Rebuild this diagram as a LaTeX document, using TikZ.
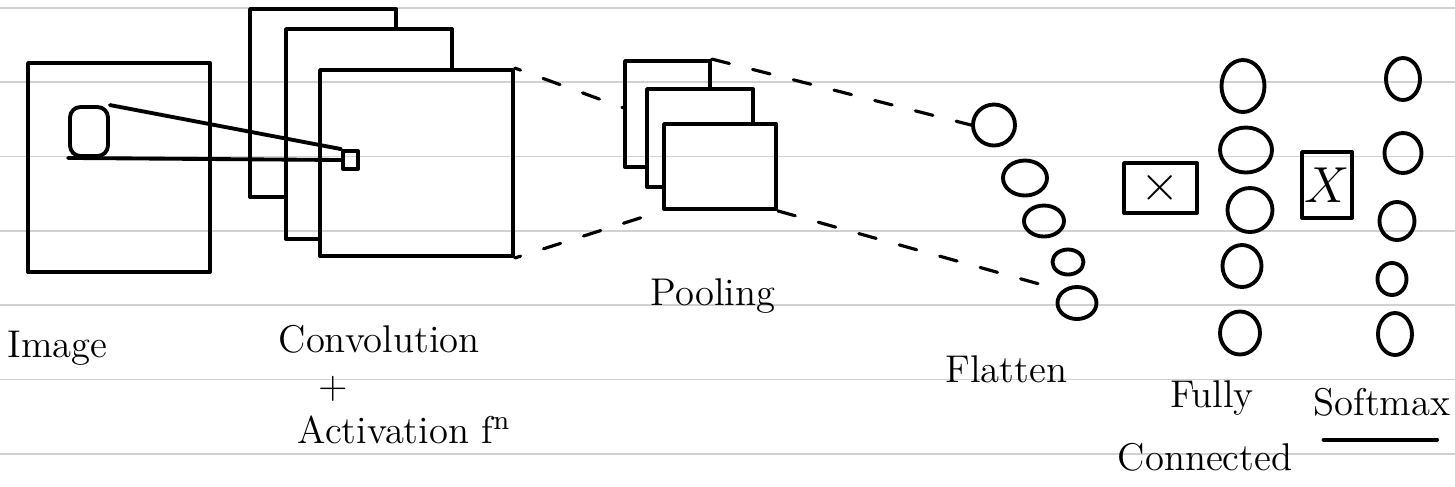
\documentclass[tikz,border=0pt]{standalone}
\usepackage{tikz}
\usetikzlibrary{positioning,shapes.geometric,arrows.meta,backgrounds}

\begin{document}
\begin{tikzpicture}[
  x=0.1mm, y=-0.1mm,
  ink/.style={line width=1.1pt, line join=round, line cap=round},
  fmap/.style={ink, draw, fill=white, inner sep=0pt},
  neuron/.style={ink, draw, ellipse, inner sep=0pt},
  wbox/.style={ink, draw, inner sep=0pt},
  lbl/.style={font=\fontsize{11}{13}\selectfont, inner sep=0pt},
  link/.style={line width=0.9pt, line cap=round, dash pattern=on 1.8mm off 2.4mm},
  ruling/.style={black!18, line width=0.5pt}
]
  \useasboundingbox (0,0) rectangle (1455,486);

  % Input image with the kernel patch
  \node[fmap, minimum width=18.2mm, minimum height=20.9mm] (img) at (119,167.5) {};
  \node[ink, draw, rounded corners=3pt, inner sep=0pt,
        minimum width=3.8mm, minimum height=4.9mm] (patch) at (89,131.5) {};

  % Convolution maps
  \node[fmap, minimum width=14.6mm, minimum height=18.8mm] (conv1) at (323,103) {};
  \node[fmap, minimum width=16.6mm, minimum height=21.0mm] (conv2) at (369,134) {};
  \node[fmap, minimum width=19.3mm, minimum height=18.6mm] (conv3) at (416.5,163) {};
  \node[ink, draw, inner sep=0pt, minimum width=1.5mm, minimum height=1.8mm] (cell) at (350.5,160) {};

  % Pooling maps
  \node[fmap, minimum width=8.5mm, minimum height=10.6mm] (pool1) at (667.5,114) {};
  \node[fmap, minimum width=10.6mm, minimum height=9.8mm] (pool2) at (700,138) {};
  \node[fmap, minimum width=11.2mm, minimum height=8.5mm] (pool3) at (720,166.5) {};

  % Flatten
  \node[neuron, minimum width=4.2mm, minimum height=4.1mm] (flat1) at (994,125) {};
  \node[neuron, minimum width=4.4mm, minimum height=3.5mm] (flat2) at (1025,178) {};
  \node[neuron, minimum width=4.0mm, minimum height=3.1mm] (flat3) at (1044,221) {};
  \node[neuron, minimum width=3.1mm, minimum height=2.5mm] (flat4) at (1068,262) {};
  \node[neuron, minimum width=3.9mm, minimum height=3.2mm] (flat5) at (1077,303) {};

  % Fully connected
  \node[wbox, minimum width=7.3mm, minimum height=5.0mm, font=\Large] (wfc) at (1160.5,188) {$\times$};
  \node[neuron, minimum width=4.3mm, minimum height=5.2mm] (fc1) at (1243,86) {};
  \node[neuron, minimum width=5.2mm, minimum height=4.5mm] (fc2) at (1246,150) {};
  \node[neuron, minimum width=4.5mm, minimum height=4.4mm] (fc3) at (1250,210) {};
  \node[neuron, minimum width=3.9mm, minimum height=4.2mm] (fc4) at (1242,266) {};
  \node[neuron, minimum width=4.0mm, minimum height=4.3mm] (fc5) at (1240,333) {};

  % Softmax
  \node[wbox, minimum width=5.0mm, minimum height=6.6mm, font=\Large] (wsm) at (1327,185) {$X$};
  \node[neuron, minimum width=3.4mm, minimum height=4.2mm] (sm1) at (1403,79) {};
  \node[neuron, minimum width=3.7mm, minimum height=4.0mm] (sm2) at (1403,153) {};
  \node[neuron, minimum width=3.5mm, minimum height=3.8mm] (sm3) at (1397,221) {};
  \node[neuron, minimum width=2.9mm, minimum height=3.2mm] (sm4) at (1392,279) {};
  \node[neuron, minimum width=3.4mm, minimum height=4.2mm] (sm5) at (1395,334) {};

  % Receptive field
  \draw[ink] (patch.north east) -- (cell.north west);
  \draw[ink] (patch.south west) -- (cell.west);

  % Dashed projections
  \begin{scope}[on background layer]
    \draw[link, dash phase=1.2mm] (conv3.north east) -- (pool3.north west);
    \draw[link, dash phase=1.2mm] (conv3.south east) -- (pool3.south west);
    \draw[link] (pool1.north east) -- (flat1.west);
    \draw[link, shorten >=1.2mm] (pool3.south east) -- (flat5.north west);
  \end{scope}

  % Labels
  \node[lbl, anchor=base west] (imglbl) at (7,357) {Image};
  \node[lbl, anchor=base west] (convlbl) at (278,352) {Convolution};
  \node[lbl, anchor=base west] (actlbl) at (297,443) {Activation f\textsuperscript{n}};
  \node[lbl, anchor=south, yshift=3.5pt] (plus) at (actlbl.north -| 333,0) {+};
  \node[lbl, anchor=base west] (poollbl) at (650,305) {Pooling};
  \node[lbl, anchor=base west] (flatlbl) at (945,382) {Flatten};
  \node[lbl, anchor=base] (fullylbl) at (1212,407) {Fully};
  \node[lbl, anchor=base] (connlbl) at (1205,470) {Connected};
  \node[lbl, anchor=base west] (smlbl) at (1313,415) {Softmax};
  \draw[ink] ([xshift=3pt,yshift=-7pt]smlbl.base west) -- ([xshift=-4pt,yshift=-7pt]smlbl.base east);

  % Notebook rulings
  \begin{scope}[blend mode=multiply]
    \foreach \y in {8,82.3,156.6,230.9,305.2,379.5,453.8}
      \draw[ruling] (0,\y) -- (1455,\y);
  \end{scope}
\end{tikzpicture}
\end{document}
